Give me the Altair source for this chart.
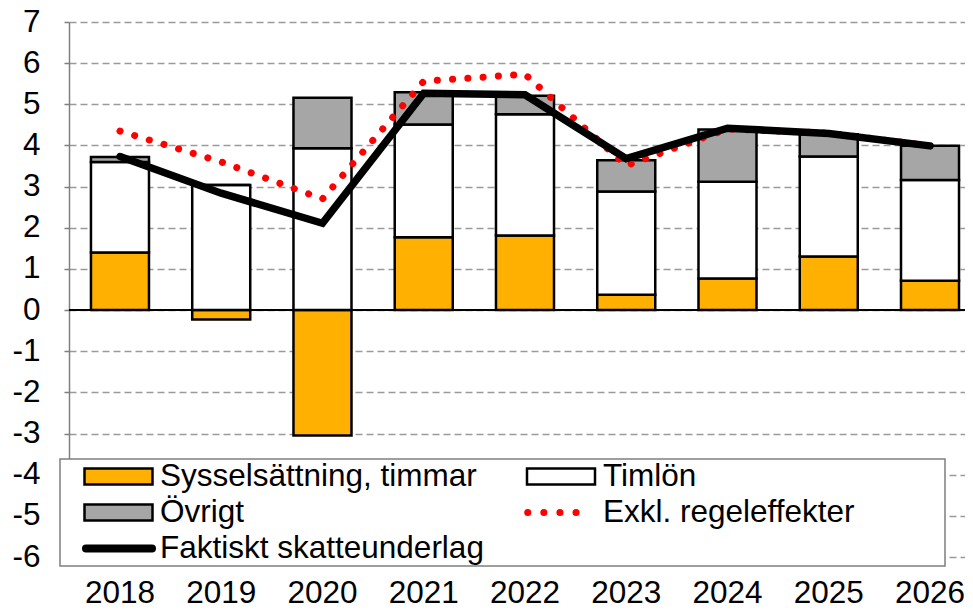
import altair as alt
import pandas as pd

FONT = "Liberation Sans"

years = ["2018", "2019", "2020", "2021", "2022", "2023", "2024", "2025", "2026"]
syss = [1.40, -0.23, -3.05, 1.77, 1.81, 0.37, 0.77, 1.30, 0.71]
timlon = [2.20, 3.04, 3.93, 2.74, 2.95, 2.51, 2.35, 2.43, 2.45]
ovrigt = [0.12, 0.00, 1.23, 0.78, 0.45, 0.76, 1.27, 0.54, 0.83]
faktiskt = [3.73, 2.84, 2.11, 5.27, 5.23, 3.68, 4.42, 4.29, 3.99]
exkl = [4.35, 3.60, 2.70, 5.56, 5.73, 3.51, 4.40, 4.30, 3.99]

series_names = ["Sysselsättning, timmar", "Timlön", "Övrigt"]
series_colors = ["#FFB000", "#FFFFFF", "#A6A6A6"]
y_ticks = list(range(-6, 8))

rows = []
for i, yr in enumerate(years):
    for k, (name, vals) in enumerate(zip(series_names, [syss, timlon, ovrigt])):
        rows.append({"year": yr, "series": name, "value": vals[i], "order": k})
bars_df = pd.DataFrame(rows)
lines_df = pd.DataFrame({"year": years, "faktiskt": faktiskt, "exkl": exkl})
zero_df = pd.DataFrame({"zero": [0]})
one = pd.DataFrame({"a": [0]})

W, H = 896, 535
FS = 31.5

x_scale = alt.Scale(domain=years, paddingInner=0.427, paddingOuter=0.138, align=0.786)
y_scale = alt.Scale(domain=[-6, 7], nice=False, zero=False)

x_axis = alt.Axis(title=None, labelAngle=0, domain=False, ticks=False, grid=False,
                  labelPadding=20, labelFontSize=FS, labelFont=FONT, labelColor="black")
y_axis = alt.Axis(title=None, values=y_ticks, labelExpr="'' + datum.value", grid=True,
                  gridDash=[7, 4], gridColor="#9a9a9a", gridWidth=1.5,
                  domainColor="#7f7f7f", domainWidth=1.5,
                  tickColor="#7f7f7f", tickSize=5, tickWidth=1.5, labelPadding=24,
                  labelFontSize=FS, labelFont=FONT, labelColor="black")

X = alt.X("year:N", scale=x_scale, axis=x_axis)

bars = alt.Chart(bars_df).mark_bar(stroke="black", strokeWidth=2.5).encode(
    x=X,
    y=alt.Y("value:Q", stack="zero", scale=y_scale, axis=y_axis),
    fill=alt.Fill("series:N", scale=alt.Scale(domain=series_names, range=series_colors), legend=None),
    order=alt.Order("order:Q"),
)

zero_line = alt.Chart(zero_df).mark_rule(color="black", strokeWidth=2).encode(
    y=alt.Y("zero:Q", scale=y_scale, axis=y_axis),
    x=alt.value(0), x2=alt.value(W),
)

line_exkl = alt.Chart(lines_df).mark_line(
    color="#FF0000", strokeWidth=7, strokeDash=[0.1, 15.2], strokeCap="round"
).encode(x=X, y=alt.Y("exkl:Q", scale=y_scale, axis=y_axis))

line_fakt = alt.Chart(lines_df).mark_line(
    color="black", strokeWidth=7.5, strokeCap="round"
).encode(x=X, y=alt.Y("faktiskt:Q", scale=y_scale, axis=y_axis))

# manual legend (pixel positions relative to plot area)
leg_box = alt.Chart(one).mark_rect(fill="white", stroke="#7f7f7f", strokeWidth=1.5).encode(
    x=alt.value(-9), x2=alt.value(876), y=alt.value(437), y2=alt.value(544))

def sym_rect(x0, x1, yc, color):
    return alt.Chart(one).mark_rect(fill=color, stroke="black", strokeWidth=2.5).encode(
        x=alt.value(x0), x2=alt.value(x1), y=alt.value(yc - 8), y2=alt.value(yc + 8))

def label(x0, yb, txt):
    return alt.Chart(one).mark_text(align="left", baseline="alphabetic", font=FONT,
                                    fontSize=FS, color="black").encode(
        x=alt.value(x0), y=alt.value(yb), text=alt.value(txt))

r1, r2, r3 = 454.5, 490.5, 526.5
legend_layers = [
    leg_box,
    sym_rect(15.5, 83.5, r1, series_colors[0]),
    label(91, r1 + 9.5, series_names[0]),
    sym_rect(458, 526, r1, series_colors[1]),
    label(534, r1 + 9.5, series_names[1]),
    sym_rect(15.5, 83.5, r2, series_colors[2]),
    label(91, r2 + 9.5, series_names[2]),
    alt.Chart(one).mark_rule(color="#FF0000", strokeWidth=7, strokeDash=[0.1, 16], strokeCap="round").encode(
        x=alt.value(458.7), x2=alt.value(522.8), y=alt.value(r2)),
    label(534, r2 + 9.5, "Exkl. regeleffekter"),
    alt.Chart(one).mark_rule(color="black", strokeWidth=8, strokeCap="round").encode(
        x=alt.value(17), x2=alt.value(83), y=alt.value(r3)),
    label(91, r3 + 9.5, "Faktiskt skatteunderlag"),
]

chart = alt.layer(bars, zero_line, line_exkl, line_fakt, *legend_layers).properties(
    width=W, height=H,
    autosize=alt.AutoSizeParams(type="none"),
    padding={"left": 61, "top": 14, "right": 0, "bottom": 52},
    background="white",
).configure_view(stroke=None)

chart.save("out.html", embed_options={"renderer": "svg", "actions": False})
